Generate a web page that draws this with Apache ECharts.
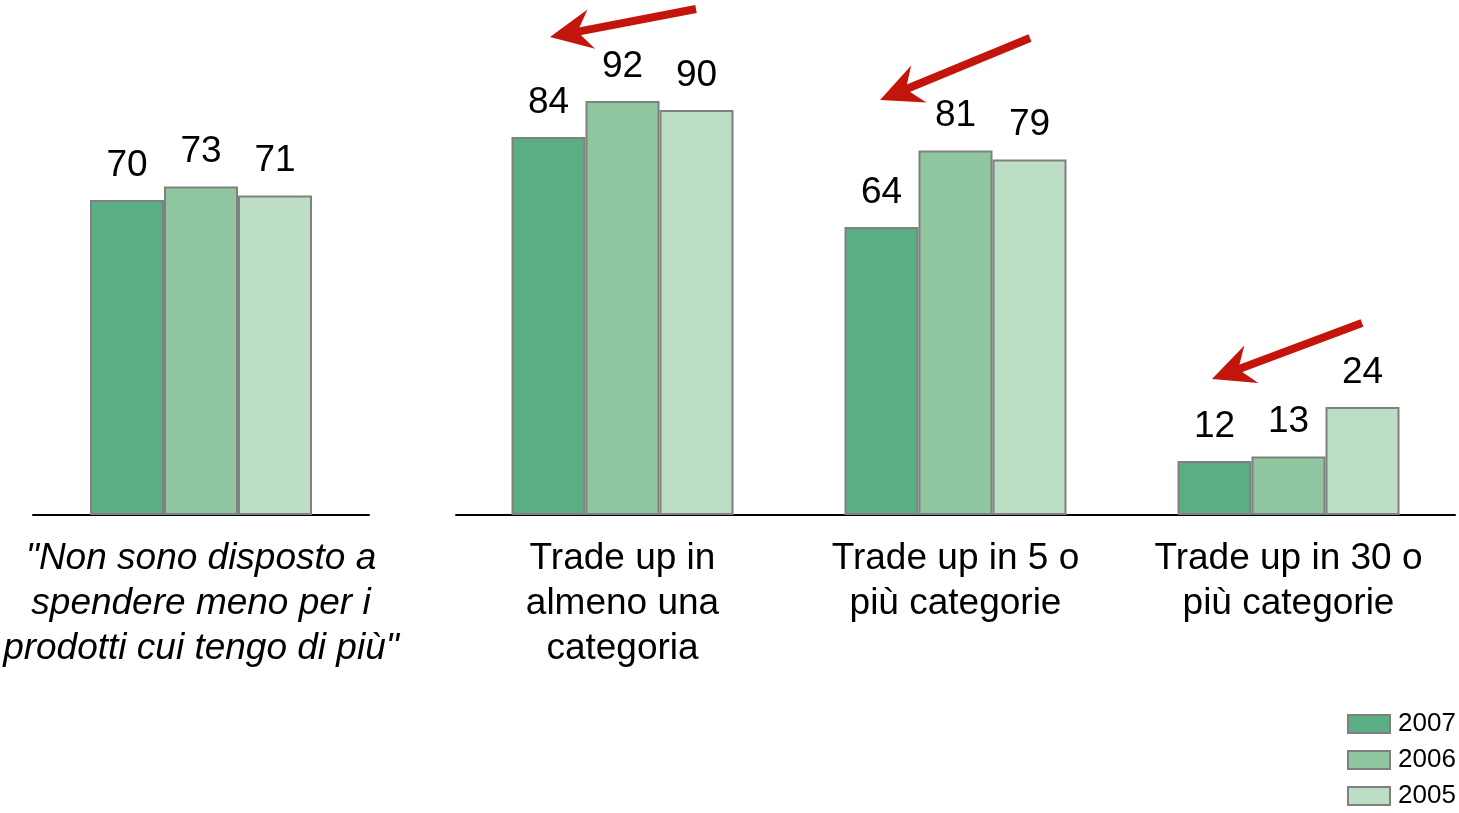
<!DOCTYPE html>
<html>
<head>
<meta charset="utf-8">
<script src="https://cdn.jsdelivr.net/npm/echarts@6/dist/echarts.min.js"></script>
<style>
  html, body { margin: 0; padding: 0; background: #fff; }
  #chart { width: 1459px; height: 813px; }
</style>
</head>
<body>
<div id="chart"></div>
<script>
// Categories: the first one is a quoted statement shown apart from the trade-up groups
const categories = [
  '"Non sono disposto a\nspendere meno per i\nprodotti cui tengo di più"',
  'Trade up in\nalmeno una\ncategoria',
  'Trade up in 5 o\npiù categorie',
  'Trade up in 30 o\npiù categorie'
];
const seriesNames = ['2007', '2006', '2005'];
const values2007 = [70, 84, 64, 12];
const values2006 = [73, 92, 81, 13];
const values2005 = [71, 90, 79, 24];
const colors = ['#5aae84', '#8fc59f', '#bbdec4'];

// Red arrows: [tailX, tailY, tipX, tipY]
const arrows = [
  [696, 9, 550, 37],
  [1030, 38, 880, 100],
  [1362, 323, 1212, 379]
];

const allValues = [values2007, values2006, values2005];
const FONT = '"Liberation Sans", Arial, sans-serif';

function makeSeries(gridIdx, sliceStart, sliceEnd) {
  return seriesNames.map((name, i) => ({
    name: name,
    type: 'bar',
    xAxisIndex: gridIdx,
    yAxisIndex: gridIdx,
    data: allValues[i].slice(sliceStart, sliceEnd),
    barWidth: 74,
    barGap: '0%',
    itemStyle: { color: colors[i], borderColor: '#808080', borderWidth: 2 },
    label: {
      show: true, position: 'top', distance: 16,
      color: '#000', fontSize: 37, fontFamily: FONT
    },
    emphasis: { disabled: true }
  }));
}

function arrowGraphics(a) {
  const [tx, ty, px, py] = a;
  const dx = px - tx, dy = py - ty;
  const len = Math.sqrt(dx * dx + dy * dy);
  const ux = dx / len, uy = dy / len;     // unit direction toward tip
  const nx = -uy, ny = ux;                // normal
  const headLen = 42, headHalf = 20, notch = 28;
  const bx = px - ux * headLen, by = py - uy * headLen;
  const mx = px - ux * notch, my = py - uy * notch;
  return [
    {
      type: 'line', silent: true,
      shape: { x1: tx, y1: ty, x2: mx + ux * 2, y2: my + uy * 2 },
      style: { stroke: '#c4150c', lineWidth: 8, lineCap: 'butt' }
    },
    {
      type: 'polygon', silent: true,
      shape: { points: [[px, py], [bx + nx * headHalf, by + ny * headHalf], [mx, my], [bx - nx * headHalf, by - ny * headHalf]] },
      style: { fill: '#c4150c' }
    }
  ];
}

const chart = echarts.init(document.getElementById('chart'), null, { renderer: 'canvas' });

const axisCommon = {
  type: 'category',
  axisLine: { show: true, lineStyle: { color: '#000', width: 2 } },
  axisTick: { show: false },
  axisLabel: {
    interval: 0, margin: 21, color: '#000', fontSize: 37,
    lineHeight: 45, fontFamily: FONT, align: 'center'
  }
};

chart.setOption({
  animation: false,
  backgroundColor: '#ffffff',
  grid: [
    { left: 33, width: 336, top: 65, bottom: 298 },
    { left: 456, width: 999, top: 65, bottom: 298 }
  ],
  xAxis: [
    Object.assign({}, axisCommon, {
      gridIndex: 0,
      data: [{ value: categories[0], textStyle: { fontStyle: 'italic' } }]
    }),
    Object.assign({}, axisCommon, { gridIndex: 1, data: categories.slice(1) })
  ],
  yAxis: [
    { type: 'value', gridIndex: 0, min: 0, max: 100, show: false },
    { type: 'value', gridIndex: 1, min: 0, max: 100, show: false }
  ],
  legend: {
    data: seriesNames,
    orient: 'vertical',
    icon: 'rect',
    left: 1347,
    top: 711,
    padding: 0,
    itemWidth: 42,
    itemHeight: 18,
    itemGap: 10,
    selectedMode: false,
    textStyle: { color: '#000', fontSize: 26, fontFamily: FONT, padding: [0, 0, 0, 3] }
  },
  series: makeSeries(0, 0, 1).concat(makeSeries(1, 1, 4)),
  graphic: arrows.flatMap(arrowGraphics)
});
</script>
</body>
</html>
